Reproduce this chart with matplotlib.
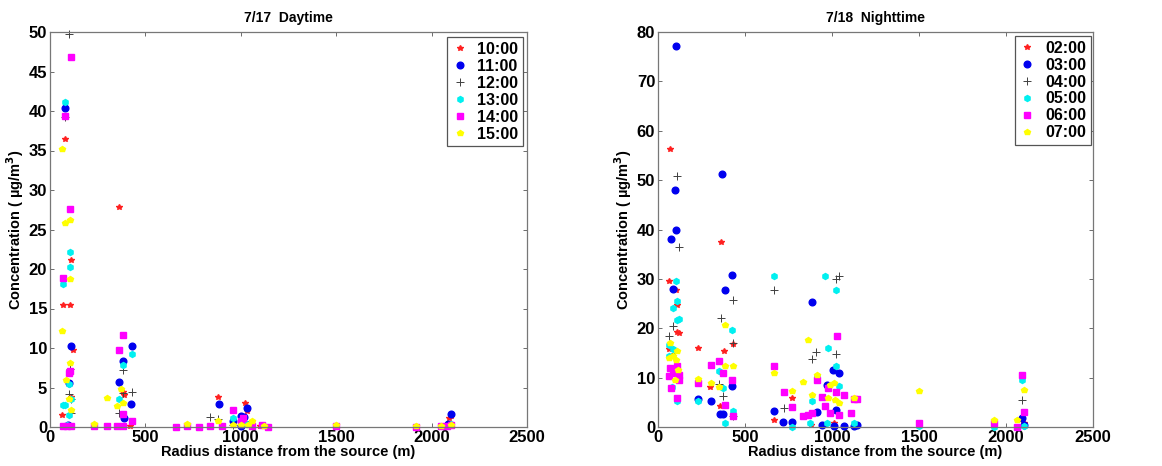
import numpy as np
import matplotlib
matplotlib.use("Agg")
import matplotlib.pyplot as plt

plt.rcParams['font.family'] = ['Liberation Sans', 'DejaVu Sans']
plt.rcParams['font.weight'] = 'bold'

##### Data: (distance m, concentration ug/m3) #####
# 7/17 daytime
day_1000 = [(80, 36.4), (66, 15.4), (105, 15.4), (108, 21.1), (363, 27.9), (120, 9.8),
            (63, 1.5), (110, 3.8), (388, 4.0), (385, 4.4), (882, 3.8), (1022, 3.1),
            (1035, 2.0), (2090, 1.2), (2100, 1.4), (70, 0.1), (100, 0.2), (230, 0.1),
            (300, 0.1), (360, 0.1), (420, 0.1), (720, 0.1), (960, 0.2), (1100, 0.1),
            (1500, 0.1), (2060, 0.1)]
day_1100 = [(80, 40.4), (108, 10.2), (102, 5.6), (363, 5.7), (384, 8.3), (428, 10.2),
            (426, 2.9), (388, 1.1), (884, 2.9), (1003, 1.4), (1034, 2.4), (1016, 1.3),
            (2100, 1.7), (2085, 0.4), (960, 0.8), (95, 0.2), (1000, 0.1)]
day_1200 = [(100, 49.8), (80, 39.2), (105, 7.4), (100, 4.2), (108, 3.5), (108, 1.8),
            (384, 7.2), (384, 4.3), (428, 4.4), (363, 1.8), (840, 1.3), (880, 1.0),
            (1020, 0.8), (960, 0.3), (2090, 0.2)]
day_1300 = [(79, 41.2), (105, 22.2), (105, 20.2), (66, 18.1), (66, 2.8), (80, 2.8),
            (100, 5.5), (110, 3.6), (100, 1.5), (384, 7.9), (428, 9.3), (360, 3.6),
            (960, 1.2), (1000, 0.6), (1030, 0.4), (2100, 0.4), (90, 0.3)]
day_1400 = [(108, 46.8), (80, 39.4), (105, 27.6), (66, 18.9), (105, 7.1), (100, 6.8),
            (363, 9.7), (385, 11.7), (385, 1.6), (428, 0.7), (960, 2.1), (1010, 1.2),
            (1000, 0.8), (70, 0.1), (90, 0.1), (110, 0.1), (230, 0.1), (300, 0.1),
            (350, 0.1), (380, 0.1), (660, 0.0), (720, 0.1), (780, 0.0), (840, 0.1),
            (900, 0.1), (1060, 0.1), (1110, 0.2), (1140, 0.0), (1500, 0.1), (1920, 0.0),
            (2050, 0.1), (2080, 0.1), (2100, 0.2)]
day_1500 = [(63, 35.2), (80, 25.8), (105, 26.2), (105, 18.7), (63, 12.2), (105, 8.1),
            (85, 6.0), (100, 3.6), (110, 2.1), (300, 3.7), (350, 2.6), (370, 4.8),
            (385, 3.0), (230, 0.4), (720, 0.4), (880, 0.8), (1000, 0.3), (1040, 0.3),
            (1060, 0.7), (1500, 0.3), (2050, 0.1), (2100, 0.3), (960, 0.2), (1120, 0.1),
            (1920, 0.1)]

# 7/18 nighttime
night_0200 = [(67, 56.4), (62, 29.5), (106, 27.7), (112, 24.8), (110, 19.2), (121, 19.0),
              (62, 15.7), (231, 16.0), (362, 37.4), (381, 15.3), (429, 16.8), (298, 8.1),
              (356, 4.2), (669, 1.4), (771, 5.9), (721, 0.8), (1010, 0.8), (2106, 0.9),
              (880, 0.5), (960, 0.4)]
night_0300 = [(106, 77.1), (365, 51.2), (100, 48.1), (102, 39.8), (73, 38.1), (87, 28.0),
              (385, 27.8), (427, 30.8), (885, 25.4), (231, 5.7), (302, 5.2), (356, 2.7),
              (375, 2.6), (427, 8.4), (665, 3.2), (721, 1.1), (771, 1.1), (913, 3.1),
              (971, 8.6), (1006, 11.5), (1042, 10.9), (1023, 3.4), (942, 0.5), (1067, 0.3),
              (1010, 0.3), (1125, 0.3), (1144, 0.5), (2092, 1.8), (2106, 0.5)]
night_0400 = [(110, 50.8), (119, 36.4), (87, 20.4), (64, 18.5), (96, 15.0), (362, 22.1),
              (429, 25.8), (429, 17.0), (371, 6.3), (352, 8.7), (669, 27.8), (727, 3.8),
              (885, 13.8), (910, 15.2), (1025, 14.8), (1025, 30.0), (1038, 30.5),
              (2092, 5.5), (433, 2.2), (102, 10.9)]
night_0500 = [(106, 29.5), (87, 24.2), (110, 25.6), (110, 21.6), (121, 21.9), (62, 16.7),
              (87, 15.7), (62, 14.4), (81, 8.2), (110, 5.2), (231, 5.3), (352, 11.3),
              (375, 7.9), (427, 19.7), (385, 0.8), (429, 3.2), (665, 30.5), (961, 30.5),
              (1023, 27.7), (975, 15.9), (1025, 12.3), (1042, 8.4), (885, 5.2), (913, 10.4),
              (771, 0.1), (875, 0.8), (971, 0.8), (1125, 0.8), (2092, 9.6), (2106, 0.3),
              (1500, 0.3), (1933, 0.1)]
night_0600 = [(62, 10.3), (67, 11.9), (87, 11.0), (77, 8.0), (96, 11.4), (110, 5.9),
              (119, 9.6), (110, 12.3), (121, 10.6), (231, 8.9), (302, 12.6), (352, 13.3),
              (375, 10.9), (385, 4.5), (427, 9.6), (429, 2.2), (665, 12.3), (727, 7.1),
              (771, 4.0), (836, 2.2), (861, 2.5), (885, 2.8), (913, 9.6), (942, 6.0),
              (961, 4.3), (975, 7.9), (990, 2.8), (1023, 7.0), (1029, 18.5), (1038, 2.5),
              (1067, 6.5), (1111, 2.8), (1125, 5.7), (1144, 5.7), (1500, 0.9), (1933, 0.9),
              (2063, 0.0), (2092, 10.6), (2106, 3.0)]
night_0700 = [(67, 17.0), (62, 14.0), (87, 14.4), (106, 13.6), (110, 15.3), (115, 11.6),
              (96, 9.6), (231, 9.7), (302, 8.9), (352, 8.2), (385, 20.7), (385, 12.3),
              (429, 12.3), (665, 10.9), (771, 7.2), (836, 9.2), (863, 17.7), (885, 6.5),
              (913, 10.6), (975, 5.9), (990, 8.6), (1010, 8.9), (1038, 4.9), (1019, 5.5),
              (1125, 5.9), (1500, 7.2), (1933, 1.4), (2063, 1.4), (2106, 7.4)]

day_labels = ['10:00', '11:00', '12:00', '13:00', '14:00', '15:00']
night_labels = ['02:00', '03:00', '04:00', '05:00', '06:00', '07:00']

# marker style per hour slot (same order in both panels)
styles = [dict(marker='*', color='#ff2020', ms=4),
          dict(marker='o', color='#0000ee', ms=4.8),
          dict(marker='+', color='#404040', ms=5.5, mew=0.7),
          dict(marker='h', color='#00f0f0', ms=4.3),
          dict(marker='s', color='#ff00ff', ms=4.6),
          dict(marker='p', color='#ffff00', ms=4.0)]

W, H = 1162, 466
fig = plt.figure(figsize=(W / 100, H / 100), dpi=100)
ax1 = fig.add_axes([50 / W, 39 / H, 477 / W, 395 / H])
ax2 = fig.add_axes([658 / W, 39 / H, 435 / W, 395 / H])


def draw(ax, series, labels, title, ymax, ystep, leg_anchor):
    for pts, lab, st in zip(series, labels, styles):
        arr = np.array(pts)
        ax.plot(arr[:, 0], arr[:, 1], linestyle='none', label=lab, clip_on=False, **st)
    ax.set_xlim(0, 2500)
    ax.set_ylim(0, ymax)
    ax.set_xticks(np.arange(0, 2501, 500))
    ax.set_yticks(np.arange(0, ymax + 1, ystep))
    ax.tick_params(direction='in', top=True, right=True, length=3, width=0.6,
                   color='#555555', labelsize=12, pad=2)
    for lab in ax.get_xticklabels() + ax.get_yticklabels():
        lab.set_fontweight('bold')
    for sp in ax.spines.values():
        sp.set_color('#777777')
        sp.set_linewidth(0.9)
    ax.set_title(title, fontsize=10, fontweight='bold', pad=7)
    ax.set_xlabel('Radius distance from the source (m)', fontsize=10.5,
                  fontweight='bold', labelpad=0)
    ax.set_ylabel('Concentration ( µg/m$^\\mathbf{3}$)', fontsize=10.5,
                  fontweight='bold', labelpad=2)
    leg = ax.legend(loc='upper right', bbox_to_anchor=leg_anchor, numpoints=1,
                    fancybox=False, framealpha=1, edgecolor='#555555',
                    prop={'size': 11.5, 'weight': 'bold'}, handlelength=1.0,
                    handletextpad=0.6, labelspacing=0.12, borderpad=0.3,
                    borderaxespad=0)
    leg.get_frame().set_linewidth(0.9)


draw(ax1, [day_1000, day_1100, day_1200, day_1300, day_1400, day_1500],
     day_labels, '7/17  Daytime', 50, 5, (0.992, 0.987))
draw(ax2, [night_0200, night_0300, night_0400, night_0500, night_0600, night_0700],
     night_labels, '7/18  Nighttime', 80, 10, (0.995, 0.99))

fig.savefig('out.png', dpi=100)
